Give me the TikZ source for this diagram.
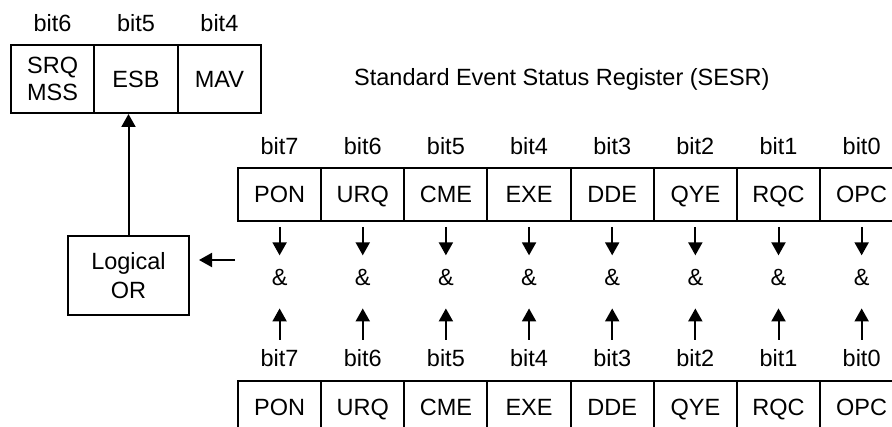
\documentclass[tikz,border=0pt]{standalone}
\usepackage{fontspec}
\setmainfont{Liberation Sans}
\usetikzlibrary{arrows.meta}
\begin{document}
\begin{tikzpicture}[x=1pt,y=-1pt,
  every node/.style={font=\fontsize{23.5}{27.5}\selectfont},
  cell/.style={draw, line width=2pt, minimum width=83.15pt, minimum height=53pt, inner sep=0pt, text height=16.8pt, text depth=0pt},
  scell/.style={draw, line width=2pt, minimum width=83.3pt, minimum height=68pt, inner sep=0pt, align=center},
  lbl/.style={anchor=base, inner sep=0pt},
  arr/.style={line width=2pt, -{Triangle[length=13pt,width=14pt]}}
]
\useasboundingbox (0,0) rectangle (892,427);
\clip (0,0) rectangle (892,427);

% Status byte register (partial)
\node[scell] (srq) at (52.6,79) {SRQ\\MSS};
\node[scell, text height=16.8pt, text depth=0pt] (esb) at (136,79) {ESB};
\node[scell, text height=16.8pt, text depth=0pt] (mav) at (219.4,79) {MAV};
\node[lbl] (sb6) at (52.6,32) {bit6};
\node[lbl] (sb5) at (136,32) {bit5};
\node[lbl] (sb4) at (219.4,32) {bit4};

% Title
\node[anchor=base west, inner sep=0pt] (title) at (354,86) {Standard Event Status Register (SESR)};

% Logical OR
\node[draw, line width=2pt, minimum width=121pt, minimum height=79pt, inner sep=0pt, align=center, font=\fontsize{23.5}{29}\selectfont] (or) at (128.5,275.5) {Logical\\OR};
\draw[arr] (or.north) -- (or.north |- esb.south);
\coordinate (orin) at (235,260);
\draw[arr] (orin) -- ([xshift=9pt,yshift=15.5pt]or.east);

% Registers
\foreach \n [count=\i from 0] in {PON,URQ,CME,EXE,DDE,QYE,RQC,OPC} {
  \pgfmathsetmacro\cx{279.6+83.15*\i}
  \pgfmathtruncatemacro\b{7-\i}
  \node[cell] (t\i) at (\cx,194.5) {\n};
  \node[lbl] (tb\i) at (\cx,155) {bit\b};
  \node[lbl] (a\i) at (\cx,286) {\&};
  \node[lbl] (bb\i) at (\cx,367) {bit\b};
  \node[cell] (b\i) at (\cx,407.5) {\n};
  \draw[arr] ([yshift=-5pt]t\i.south) -- ([yshift=14.2pt]a\i.north);
  \draw[arr] ([yshift=10pt]bb\i.north) -- ([yshift=-22pt]a\i.south);
}
\end{tikzpicture}
\end{document}
